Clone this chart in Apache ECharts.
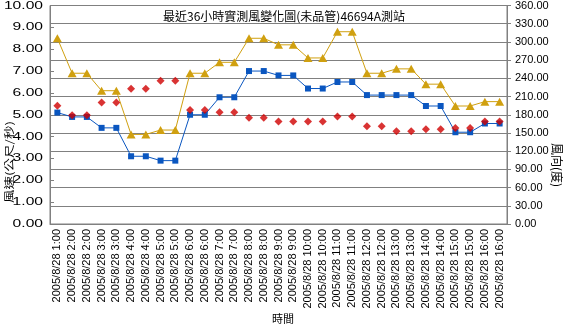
<!DOCTYPE html>
<html>
<head>
<meta charset="utf-8">
<script src="https://cdn.jsdelivr.net/npm/echarts@6/dist/echarts.min.js"></script>
<style>
html,body{margin:0;padding:0;background:#fff;}
#c{width:568px;height:329px;}
</style>
</head>
<body>
<div id="c"></div>
<script>
var categories = ["2005/8/28 1:00","2005/8/28 2:00","2005/8/28 2:00","2005/8/28 3:00","2005/8/28 3:00","2005/8/28 4:00","2005/8/28 4:00","2005/8/28 5:00","2005/8/28 5:00","2005/8/28 6:00","2005/8/28 6:00","2005/8/28 7:00","2005/8/28 7:00","2005/8/28 8:00","2005/8/28 8:00","2005/8/28 9:00","2005/8/28 9:00","2005/8/28 10:00","2005/8/28 10:00","2005/8/28 11:00","2005/8/28 11:00","2005/8/28 12:00","2005/8/28 12:00","2005/8/28 13:00","2005/8/28 13:00","2005/8/28 14:00","2005/8/28 14:00","2005/8/28 15:00","2005/8/28 15:00","2005/8/28 16:00","2005/8/28 16:00"];
var windSpeed = [5.1,4.9,4.9,4.4,4.4,3.1,3.1,2.9,2.9,5.0,5.0,5.8,5.8,7.0,7.0,6.8,6.8,6.2,6.2,6.5,6.5,5.9,5.9,5.9,5.9,5.4,5.4,4.2,4.2,4.6,4.6];
var gustSpeed = [8.5,6.9,6.9,6.1,6.1,4.1,4.1,4.3,4.3,6.9,6.9,7.4,7.4,8.5,8.5,8.2,8.2,7.6,7.6,8.8,8.8,6.9,6.9,7.1,7.1,6.4,6.4,5.4,5.4,5.6,5.6];
var windDir = [195,179,179,200,200,223,223,236,236,188,188,184,184,175,175,169,169,169,169,177,177,161,161,153,153,156,156,158,158,169,169];
var leftTicks = [0,1,2,3,4,5,6,7,8,9,10];
var titleText = "最近36小時實測風變化圖(未品管)46694A測站";
var leftName = "風速(公尺/秒)";
var rightName = "風向(度)";
var xName = "時間";

var chart = echarts.init(document.getElementById('c'), null, {renderer:'canvas'});
var grey = '#808080';
var lab = {color:'#000', fontSize:11, fontFamily:'Liberation Sans, Arial, sans-serif'};
var cjk = 'Noto Sans CJK TC, sans-serif';
chart.setOption({
  animation:false,
  backgroundColor:'#fff',
  title:{text:titleText, left:'center', top:5, textStyle:{fontSize:12, fontWeight:'normal', color:'#000', fontFamily:cjk}},
  grid:{left:50, right:61, top:4, bottom:105, show:true, borderColor:grey, borderWidth:1, backgroundColor:'transparent'},
  xAxis:{type:'category', data:categories, boundaryGap:true,
    axisLine:{lineStyle:{color:grey}},
    axisTick:{length:5, lineStyle:{color:grey}},
    axisLabel:Object.assign({rotate:90, interval:0, margin:5}, lab),
    splitLine:{show:false}},
  yAxis:[
    {type:'value', min:0, max:10, interval:1, position:'left',
      axisLine:{show:true, lineStyle:{color:grey}},
      axisTick:{show:true, inside:true, length:4, lineStyle:{color:grey}},
      axisLabel:{show:false},
      splitLine:{show:false}},
    {type:'value', min:0, max:360, interval:30, position:'right',
      axisLine:{show:true, lineStyle:{color:grey}},
      axisTick:{show:true, length:4, lineStyle:{color:grey}},
      axisLabel:Object.assign({margin:8, formatter:function(v){return v.toFixed(2);}}, lab),
      splitLine:{show:true, lineStyle:{color:grey, width:1}}}
  ],
  series:[
    {name:'風速', type:'line', yAxisIndex:0, data:windSpeed, symbol:'rect', symbolSize:6,
      itemStyle:{color:'#0A56C0'}, lineStyle:{color:'#0A56C0', width:1}, z:2},
    {name:'陣風', type:'line', yAxisIndex:0, data:gustSpeed, symbol:'triangle', symbolSize:[9,8],
      itemStyle:{color:'#D0A010'}, lineStyle:{color:'#D0A010', width:1}, z:3},
    {name:'風向', type:'scatter', yAxisIndex:1, data:windDir, symbol:'diamond', symbolSize:8,
      itemStyle:{color:'#D00000'}, z:4}
  ]
});

var g = [
  {type:'text', x:9, y:162, rotation:Math.PI/2, scaleX:1.35, style:{text:leftName, fill:'#000', fontSize:10, fontFamily:cjk, align:'center', verticalAlign:'middle'}},
  {type:'text', x:557, y:165, rotation:-Math.PI/2, style:{text:rightName, fill:'#000', fontSize:12, fontFamily:cjk, align:'center', verticalAlign:'middle'}},
  {type:'text', x:283, y:319, style:{text:xName, fill:'#000', fontSize:11, fontFamily:cjk, align:'center', verticalAlign:'middle'}}
];
leftTicks.forEach(function(v){
  var py = chart.convertToPixel({yAxisIndex:0}, v);
  g.push({type:'text', x:43, y:py, scaleX:1.42, style:{text:v.toFixed(2), fill:'#000', fontSize:11, fontFamily:lab.fontFamily, align:'right', verticalAlign:'middle'}});
});
chart.setOption({graphic:g});
</script>
</body>
</html>
